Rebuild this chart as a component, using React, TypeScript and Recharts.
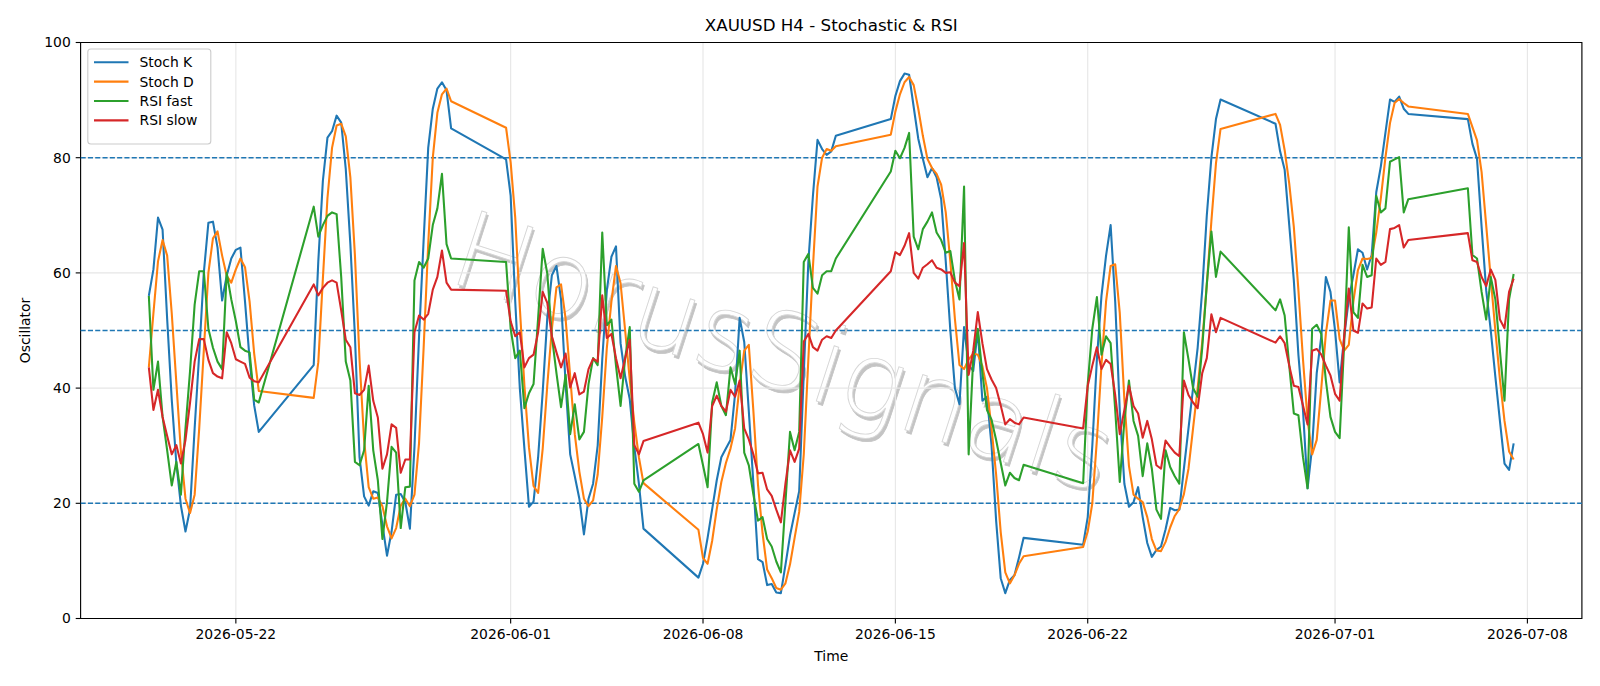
import React from "react";
import { LineChart, Line, XAxis, YAxis, CartesianGrid, ReferenceLine, ReferenceArea } from "recharts";

const FONT = "'DejaVu Sans', sans-serif";

// H4 trading sessions: first bar (UTC) and number of bars
const SESSIONS: [string, number][] = [
  ["2026-05-18T20:00", 25],
  ["2026-05-24T20:00", 31],
  ["2026-05-31T20:00", 31],
  ["2026-06-07T20:00", 31],
  ["2026-06-14T20:00", 30],
  ["2026-06-21T20:00", 31],
  ["2026-06-28T20:00", 30],
  ["2026-07-05T20:00", 11],
];

const STOCH_K = [
  56, 60.6, 69.6, 67.5, 52, 38, 27, 19.6, 15.1, 19, 33, 46, 60, 68.7, 68.9, 64.4, 55.2, 59.5, 62.5, 64, 64.4, 55, 45, 37, 32.4,
  44, 62, 76, 83.5, 84.6, 87.3, 86.1, 78, 65, 49, 28, 21.2, 19.6, 22.1, 21.8, 16.3, 10.9, 15.1, 21.5, 21.6, 20.2, 15.6, 29.8, 49, 65.7, 81.7, 88.5, 92, 93.1, 91.7, 85.1,
  79.7, 73.4, 55, 40, 29.5, 19.4, 20.3, 28, 39.4, 52.2, 59.6, 61.2, 55.4, 40.7, 28.5, 24.7, 20.8, 14.6, 20.8, 23.4, 30, 45, 57, 62.8, 64.6, 47.8, 42, 38.1, 29.8, 23.4, 15.6,
  7.1, 9.5, 14, 19, 24, 28, 29.5, 31, 39, 52.2, 48, 36, 23.4, 10.3, 9.8, 5.8, 6, 4.5, 4.4, 9.3, 14.4, 18.3, 22.1, 42.6, 61.9, 73.4, 83.1, 81.5, 80.5, 81.1, 83.8,
  86.7, 90.7, 93.3, 94.6, 94.4, 88.8, 83.3, 79.8, 76.6, 78.2, 76.6, 72.8, 62, 50, 40, 37.2, 50.6, 44, 43, 50, 37.8, 38.5, 30, 17, 7, 4.4, 6.7, 7.5, 10.6, 14,
  12.8, 17.6, 30, 45, 56, 63, 68.3, 55, 36, 23.4, 19.4, 20.2, 22.8, 17.6, 13.1, 10.7, 11.9, 12.5, 15.5, 19.2, 18.8, 18.9, 26, 33, 40, 47, 57, 70, 80, 86.7, 90.1,
  85.9, 81.1, 77.9, 68.3, 58.7, 45.8, 36.2, 22.6, 29.8, 42.6, 49, 59.3, 56.7, 50, 41, 49, 55.4, 59.6, 64.1, 63.5, 60.6, 63.1, 74, 78.5, 84.3, 90.1, 89.7, 90.6, 88.5, 87.6,
  86.7, 82.4, 79.8, 68, 57, 50, 42, 34.3, 26.9, 25.8, 30.4,
];

const STOCH_D = [
  43.6, 53, 62, 65.7, 63, 53, 41, 29, 20.8, 18.3, 21.5, 33, 46.5, 60, 66, 67.2, 63, 59.5, 58.3, 60.6, 62.5, 61, 55, 46, 39.5,
  38.3, 44.5, 59, 73, 81.7, 85.6, 85.9, 83.7, 76.6, 63, 45, 31, 22.8, 20.8, 21, 19.5, 16, 13.9, 15.7, 19.6, 20.8, 19.5, 21.5, 30.5, 47, 65, 80, 87.8, 91, 92, 89.8,
  85.2, 79.2, 69.6, 54, 40.5, 29.7, 23, 21.8, 29.5, 40.5, 50.3, 57.5, 58, 52, 42, 32, 25.5, 20.8, 19.5, 20.5, 25, 35, 47, 55, 61.2, 58.2, 50, 41.5, 34, 28, 23.5,
  15.4, 10.5, 9.5, 13.5, 19, 23.7, 27, 29.5, 33, 40.5, 46.5, 47.5, 36, 23.3, 14.8, 8.5, 7, 5.3, 5, 6.1, 9.4, 14, 18.5, 28.5, 45, 61, 75, 80, 81.5, 81.2, 82,
  84, 88, 91, 93.1, 94, 92.6, 88.5, 83.8, 79.8, 78.2, 77.2, 75.3, 70.5, 62, 52, 44, 43.3, 45, 46, 45.8, 43.8, 40, 33, 25, 15, 8, 6.1, 7.5, 9.5, 10.8,
  12.4, 15.1, 20, 31, 44, 55, 61.2, 61.5, 53, 38, 26.5, 21.5, 20.8, 20.2, 17.6, 13.8, 11.8, 11.7, 13.3, 15.8, 17.8, 19, 21.6, 26, 33, 40, 48, 58, 69, 79, 85,
  87.6, 85.7, 81.3, 75.5, 68, 57, 45, 34.5, 28.5, 31, 40, 49.5, 55.2, 55.2, 48.5, 46.5, 47.5, 55, 60.5, 62.5, 62.4, 62.6, 67, 73, 80, 86, 89.5, 90.2, 89.5, 88.9,
  87.6, 85.3, 83, 77.5, 68.3, 59, 50, 41.5, 34.3, 29, 27.6,
];

const RSI_FAST = [
  56, 39.7, 44.6, 35, 29.2, 23.1, 27.2, 21.5, 33, 43, 54.5, 60.3, 60.3, 50.3, 47, 44.6, 43.3, 60, 55.4, 51.6, 47.1, 46.5, 46.2, 38, 37.5,
  71.5, 66.3, 68.3, 69.9, 70.5, 70.2, 59.3, 44.6, 41.3, 27.2, 26.6, 29.2, 40.4, 29.2, 24, 13.8, 20.2, 29.8, 28.8, 15.7, 22.8, 22.9, 58.7, 61.9, 60.9, 62.5, 68.3, 71.2, 77.2, 65, 62.5,
  61.9, 50.3, 45.2, 46.5, 36.5, 39.1, 40.7, 52.2, 64.2, 59.9, 49, 42.6, 36.7, 42.3, 32, 37.2, 31.1, 32.4, 40.7, 45.2, 44, 67, 50.9, 51.9, 43.9, 36.9, 45.2, 50.6, 23.4, 22, 24,
  30.3, 26.6, 22.8, 37.5, 41, 36.9, 35.3, 43.6, 40.7, 46.5, 28.8, 26.6, 21.5, 17, 17.6, 13.8, 12.5, 9.9, 8, 20.2, 32.4, 29.2, 32.4, 61.9, 63.3, 57.4, 56.4, 59.6, 60.3, 60.3, 62.5,
  77.6, 81.2, 79.9, 81.7, 84.3, 66.3, 64.1, 67.6, 68.9, 70.5, 67, 65.7, 63.5, 63.8, 58.7, 55.4, 75, 28.5, 45.2, 50.3, 42.6, 36.2, 34.5, 31, 27, 23.1, 25.3, 24.4, 24, 26.7,
  23.5, 40.7, 50.3, 55.8, 45.8, 49, 47.8, 36.2, 23.7, 34.3, 41.3, 34.3, 31.7, 24.7, 30.4, 26, 18.9, 17.3, 29.2, 26.3, 24.7, 23.4, 49.7, 45, 40, 38.5, 47, 58, 67.2, 59.3, 63.7,
  53.5, 55.4, 52.6, 43.9, 35.6, 35.3, 28, 22.6, 50.3, 51, 49.4, 41.3, 35, 32.4, 31.3, 47.8, 67.9, 53.2, 52.2, 61.4, 59.3, 59.6, 73.4, 70.5, 71.2, 79.3, 79.7, 80.1, 70.5, 72.8,
  74.7, 63.1, 62.5, 56.7, 51.9, 59.3, 55.4, 46.5, 37.8, 55.4, 59.8,
];

const RSI_SLOW = [
  43.6, 36.2, 39.7, 35, 31.7, 28.5, 30.1, 26.9, 31, 37.5, 44.6, 48.5, 48.5, 44.9, 42.6, 42, 41.7, 49.7, 47.8, 45, 44.6, 44.2, 41.8, 41.2, 41,
  58, 56.1, 57.4, 58.3, 58.7, 58.3, 53.5, 48.4, 47.1, 39.1, 38.8, 39.7, 43.9, 37.8, 34.9, 26, 28.5, 33.7, 33.1, 25.3, 27.6, 27.6, 49.7, 52.6, 51.9, 52.9, 57.1, 59.3, 63.9, 58.3, 57.1,
  56.9, 51.6, 49, 49.7, 43.6, 45.2, 45.8, 49.7, 56.7, 54.8, 49, 46.2, 43.6, 46, 40.1, 42.6, 38.9, 39.4, 43.3, 45.1, 44.6, 56.1, 48.7, 49.4, 45.2, 41.7, 45.2, 48.4, 30.1, 28.5, 30.8,
  34, 32, 28.8, 36.9, 38.7, 36.9, 35.9, 39.7, 38.5, 41.3, 33, 31.1, 28.5, 25.2, 25.3, 22.4, 21.3, 18.9, 16.7, 23.4, 29.2, 27.2, 29.5, 48.1, 49.4, 47.1, 46.5, 48.4, 49, 48.7, 50,
  60.3, 63.6, 63.1, 64.7, 66.9, 60, 59, 60.9, 61.5, 62.2, 60.9, 60.6, 60, 60.1, 58.3, 57.7, 65.2, 42.3, 46.5, 53.2, 47.8, 43.3, 41.5, 40, 37, 33.7, 34.6, 34, 33.7, 34.9,
  33, 40.4, 43.9, 47.1, 43.3, 44.9, 44.2, 38.8, 32, 36.2, 40.4, 36.9, 35.6, 31.4, 34.3, 31.1, 26.6, 26, 30.9, 29.8, 28.8, 28.2, 41.3, 38.8, 37.5, 36.5, 42.6, 45.2, 52.8, 49.7, 52.2,
  47.9, 49, 47.8, 43.9, 40.4, 40.2, 37, 33.7, 46.5, 46.8, 45.8, 43.9, 42.2, 39, 37.8, 49, 57.3, 50, 49.6, 54.7, 53.8, 54, 62.5, 61.4, 61.9, 67.6, 67.8, 68.3, 64.4, 65.7,
  66.9, 62.2, 61.9, 59.3, 57.7, 60.6, 58.8, 51.9, 50.4, 56.7, 59,
];

const X_TICKS = ["2026-05-22", "2026-06-01", "2026-06-08", "2026-06-15", "2026-06-22", "2026-07-01", "2026-07-08"];
const Y_TICKS = [0, 20, 40, 60, 80, 100];
const LEVELS = [80, 50, 20];

const SERIES = [
  { key: "k", name: "Stoch K", color: "#1f77b4" },
  { key: "d", name: "Stoch D", color: "#ff7f0e" },
  { key: "rf", name: "RSI fast", color: "#2ca02c" },
  { key: "rs", name: "RSI slow", color: "#d62728" },
];

const H4 = 4 * 3600 * 1000;
const TIMES = SESSIONS.flatMap(([start, n]) => {
  const t0 = Date.parse(start + ":00Z");
  return Array.from({ length: n }, (_, i) => t0 + i * H4);
});

const data = TIMES.map((t, i) => ({ t, k: STOCH_K[i], d: STOCH_D[i], rf: RSI_FAST[i], rs: RSI_SLOW[i] }));

const tMin = TIMES[0];
const tMax = TIMES[TIMES.length - 1];
const pad = (tMax - tMin) * 0.05;
const X_DOMAIN = [tMin - pad, tMax + pad];
const xTickValues = X_TICKS.map((d) => Date.parse(d + "T00:00:00Z"));
const fmtDate = (v: number) => new Date(v).toISOString().slice(0, 10);

// plot box (matches the matplotlib axes)
const LEFT = 80.6;
const RIGHT = 18.1;
const TOP = 42.5;
const BOTTOM = 67.5;
const CX = (LEFT + 1600 - RIGHT) / 2;

const WM_FONT = "'DejaVu Sans ExtraLight', 'DejaVu Sans', sans-serif";

export default function App() {
  const tickStyle = { fill: "#000", fontSize: 13.9, fontFamily: FONT };
  return (
    <div style={{ position: "absolute", left: 0, top: 0, width: 1600, height: 686, background: "#fff", fontFamily: FONT }}>
      {/* watermark, under the plot */}
      <svg width={1600} height={686} style={{ position: "absolute", left: 0, top: 0 }}>
        <g transform="translate(784,352) rotate(18)">
          <text x={2.5} y={2.5} textAnchor="middle" dominantBaseline="central" fontSize={106} fontWeight={200}
            fontFamily={WM_FONT} fill="#c4c4c4" stroke="#c4c4c4" strokeWidth={0.8}>HorusSignals</text>
          <text x={0} y={0} textAnchor="middle" dominantBaseline="central" fontSize={106} fontWeight={200}
            fontFamily={WM_FONT} fill="#ffffff" stroke="#d6d6d6" strokeWidth={0.9}>HorusSignals</text>
        </g>
      </svg>

      <div style={{ position: "absolute", left: 0, top: 0 }}>
        <LineChart width={1600} height={686} data={data} margin={{ top: TOP, right: RIGHT, bottom: 0, left: 0 }}>
          <CartesianGrid stroke="#e6e6e6" strokeWidth={1.1} />
          <XAxis dataKey="t" type="number" domain={X_DOMAIN} ticks={xTickValues} tickFormatter={fmtDate}
            height={BOTTOM} axisLine={false} tickLine={{ stroke: "#000", strokeWidth: 1.1 }} tickSize={4.9}
            tickMargin={5.3} tick={tickStyle} interval={0} allowDataOverflow />
          <YAxis type="number" domain={[0, 100]} ticks={Y_TICKS} width={LEFT} axisLine={false}
            tickLine={{ stroke: "#000", strokeWidth: 1.1 }} tickSize={4.9} tickMargin={4.9} tick={tickStyle} interval={0} />
          {LEVELS.map((v) => (
            <ReferenceLine key={v} y={v} stroke="#1f77b4" strokeWidth={1.4} strokeDasharray="5.1 2.2" />
          ))}
          {SERIES.map((s) => (
            <Line key={s.key} type="linear" dataKey={s.key} name={s.name} stroke={s.color} strokeWidth={2.08}
              dot={false} activeDot={false} isAnimationActive={false} strokeLinejoin="round" />
          ))}
          <ReferenceArea x1={X_DOMAIN[0]} x2={X_DOMAIN[1]} y1={0} y2={100} fill="none" fillOpacity={0}
            stroke="#000" strokeWidth={1.1} ifOverflow="visible" />
        </LineChart>
      </div>

      <svg width={1600} height={686} style={{ position: "absolute", left: 0, top: 0, pointerEvents: "none" }}>
        <text x={CX} y={30.5} textAnchor="middle" fontSize={16.7} fontFamily={FONT} fill="#000">
          XAUUSD H4 - Stochastic &amp; RSI
        </text>
        <text x={CX} y={661} textAnchor="middle" fontSize={13.9} fontFamily={FONT} fill="#000">Time</text>
        <text x={29.5} y={330.5} textAnchor="middle" fontSize={13.9} fontFamily={FONT} fill="#000"
          transform="rotate(-90 29.5 330.5)">Oscillator</text>
        <g>
          <rect x={87.8} y={49} width={123} height={95} rx={3} fill="#fff" fillOpacity={0.8} stroke="#cccccc" strokeWidth={1.1} />
          {SERIES.map((s, i) => {
            const y = 62.2 + i * 19.4;
            return (
              <g key={s.key}>
                <line x1={94} x2={128.5} y1={y} y2={y} stroke={s.color} strokeWidth={2.08} />
                <text x={139.5} y={y + 5} fontSize={13.9} fontFamily={FONT} fill="#000">{s.name}</text>
              </g>
            );
          })}
        </g>
      </svg>
    </div>
  );
}
